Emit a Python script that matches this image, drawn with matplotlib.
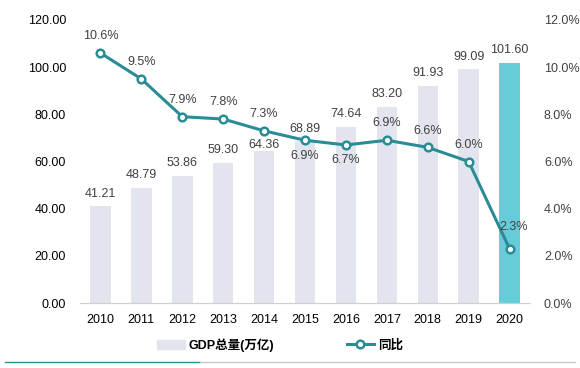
import matplotlib.pyplot as plt
from matplotlib.lines import Line2D
from matplotlib.patches import Patch

plt.rcParams['font.family'] = ['Liberation Sans', 'Noto Sans CJK SC', 'DejaVu Sans']

# --- Data ---
years = ['2010', '2011', '2012', '2013', '2014', '2015', '2016', '2017', '2018', '2019', '2020']
gdp = [41.21, 48.79, 53.86, 59.30, 64.36, 68.89, 74.64, 83.20, 91.93, 99.09, 101.60]
growth = [10.6, 9.5, 7.9, 7.8, 7.3, 6.9, 6.7, 6.9, 6.6, 6.0, 2.3]
left_ticks = [0, 20, 40, 60, 80, 100, 120]
right_ticks = [0, 2, 4, 6, 8, 10, 12]

bar_color = '#E2E5ED'
hl_color = '#66CCD9'
line_color = '#2A8C95'
text_color = '#404040'

fig = plt.figure(figsize=(5.8, 3.68), dpi=100)
ax = fig.add_axes([80 / 580, 1 - 303 / 368, 450 / 580, 283 / 368])
ax2 = ax.twinx()

x = list(range(len(years)))
colors = [bar_color] * (len(years) - 1) + [hl_color]
ax.bar(x, gdp, width=0.5, color=colors, zorder=1)
# bar label offsets (pixels above the bar top)
bar_offsets = [12, 13, 13, 13, 6, 12, 13, 13, 13, 12, 13]
for xi, v, off in zip(x, gdp, bar_offsets):
    ax.annotate(f'{v:.2f}', (xi, v), xytext=(0, off), textcoords='offset pixels',
                ha='center', va='center', fontsize=9, color=text_color)

ax.set_xlim(-0.5, len(years) - 0.5)
ax.set_ylim(0, 120)
ax.set_yticks(left_ticks)
ax.set_yticklabels([f'{t:.2f}' for t in left_ticks])
ax.set_xticks(x)
ax.set_xticklabels(years)

ax2.plot(x, growth, color=line_color, lw=2.2, marker='o', ms=5.5,
         mfc='white', mec=line_color, mew=1.8, zorder=3)
ax2.set_ylim(0, 12)
ax2.set_yticks(right_ticks)
ax2.set_yticklabels([f'{t:.1f}%' for t in right_ticks])

# label offsets (pixels) for the growth labels
offsets = [(0, 17), (0, 17), (0, 17), (0, 17), (0, 17), (0, -16), (0, -15),
           (0, 17), (0, 16), (0, 17), (4, 22)]
for xi, v, off in zip(x, growth, offsets):
    ax2.annotate(f'{v:.1f}%', (xi, v), xytext=off, textcoords='offset pixels',
                 ha='center', va='center', fontsize=9, color=text_color)

for a in (ax, ax2):
    for s in ['top', 'left', 'right']:
        a.spines[s].set_visible(False)
    a.spines['bottom'].set_color('#D0D0D0')
    a.tick_params(length=0, labelsize=9, colors='black')
ax.tick_params(axis='y', pad=10)
ax.tick_params(axis='x', pad=8)
ax2.tick_params(axis='y', pad=10, colors=text_color)

handles = [Patch(color=bar_color),
           Line2D([0], [0], color=line_color, lw=2.2, marker='o', ms=5.5,
                  mfc='white', mec=line_color, mew=1.8)]
fig.legend(handles, ['GDP总量(万亿)', '同比'], loc='center', ncol=2,
           bbox_to_anchor=(280 / 580, 1 - 345 / 368), frameon=False,
           prop={'size': 9, 'weight': 'bold'}, columnspacing=5.8,
           handlelength=2.2, handletextpad=0.3)

# decorative bottom rule
fig.add_artist(Line2D([5 / 580, 200 / 580], [1 - 362 / 368] * 2, color=line_color, lw=1))
fig.add_artist(Line2D([200 / 580, 575 / 580], [1 - 362 / 368] * 2, color='#C8C8C8', lw=1))

fig.savefig('out.png', dpi=100)
